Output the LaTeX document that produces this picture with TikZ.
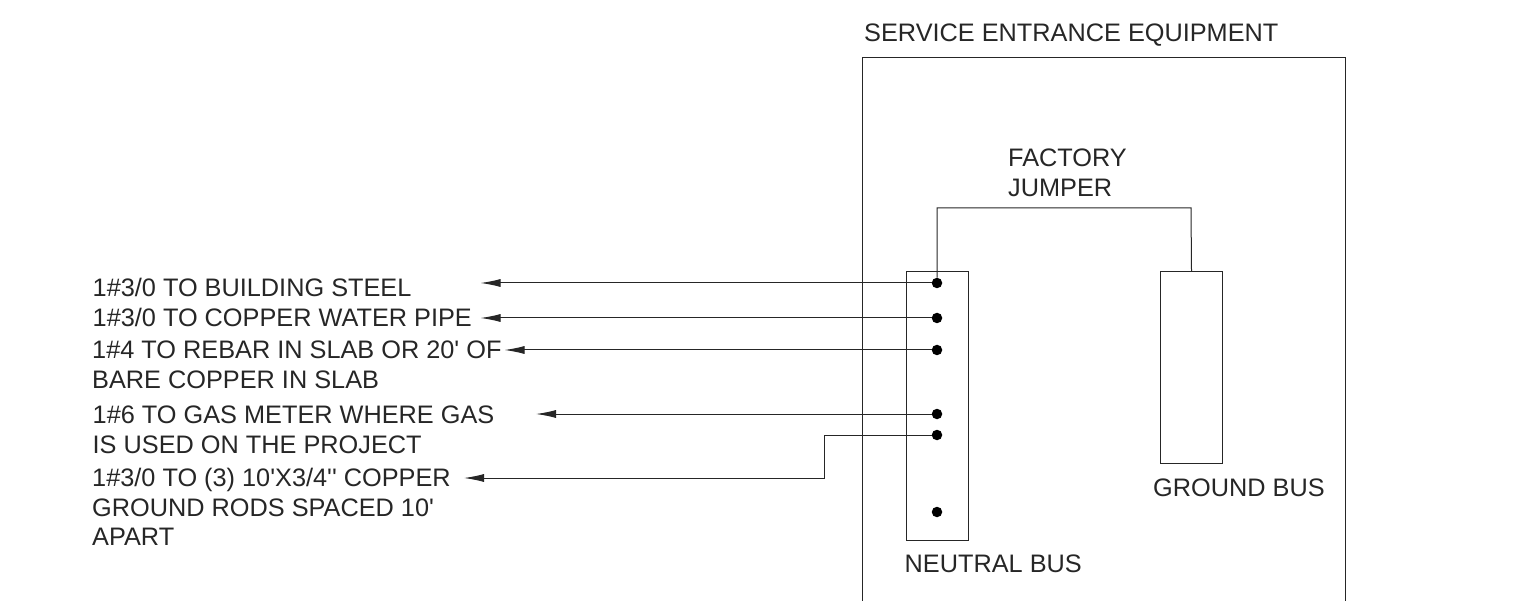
\documentclass[tikz,border=0pt]{standalone}
\usepackage{fontspec}
\setmainfont{Liberation Sans}
\usetikzlibrary{arrows.meta}
\begin{document}
\begin{tikzpicture}[x=1pt,y=-1pt,
            every node/.style = {align=left, anchor=west, inner sep=0pt,
              font=\fontsize{25.3}{29.5}\selectfont, text=black!85},
            wire/.style = {draw=black!85, line width=1pt},
            lead/.style = {wire, -{Latex[length=20pt,width=8pt]}},
            bus/.style = {draw=black!85, line width=1pt, shape=rectangle},
            lug/.style = {circle, fill=black, anchor=center, minimum size=10.5pt}]
  \useasboundingbox (0,0) rectangle (1520,601);
  \draw[wire] (862,601) -- (862,58) -- (1345,58) -- (1345,601);
  \node (title) at (864,35.5) {SERVICE ENTRANCE EQUIPMENT};
  \node (factory) at (1008,173) {FACTORY\\JUMPER};
  % buses
  \node[bus, anchor=north west, minimum width=62pt, minimum height=269pt] (neutral) at (905.5,271) {};
  \node[bus, anchor=north west, minimum width=62pt, minimum height=192pt] (ground) at (1160,271) {};
  \node (neutrallabel) at (904.5,564) {NEUTRAL BUS};
  \node (groundlabel) at (1153,488) {GROUND BUS};
  % lugs
  \node[lug] (a) at (937,283) {};
  \node[lug] (b) at (937,318) {};
  \node[lug] (c) at (937,350) {};
  \node[lug] (d) at (937,414) {};
  \node[lug] (e) at (937,435) {};
  \node[lug] (f) at (937,512) {};
  % labels
  \node (steel) at (92.5,287) {1\#3/0 TO BUILDING STEEL};
  \node (pipe) at (92.5,317.5) {1\#3/0 TO COPPER WATER PIPE};
  \node (rebar) at (92,365) {1\#4 TO REBAR IN SLAB OR 20\textquotesingle{} OF\\BARE COPPER IN SLAB};
  \node (gas) at (92.5,430) {1\#6 TO GAS METER WHERE GAS\\IS USED ON THE PROJECT};
  \node (rods) at (92,507) {1\#3/0 TO (3) 10\textquotesingle{}X3/4\textquotesingle\textquotesingle{} COPPER\\GROUND RODS SPACED 10\textquotesingle\\APART};
  % wires
  \coordinate (steelend) at (480.5,283);
  \coordinate (pipeend) at (480.5,318);
  \coordinate (rebarend) at (504.5,350);
  \coordinate (gasend) at (536,414);
  \coordinate (rodsend) at (464,478);
  \draw[wire] (a) |- (1191,208) -- (ground.north);
  \draw[lead] (a) -- (steelend);
  \draw[lead] (b) -- (pipeend);
  \draw[lead] (c) -- (rebarend);
  \draw[lead] (d) -- (gasend);
  \draw[lead] (e) -- (824,435) -- (824,478) -- (rodsend);
\end{tikzpicture}
\end{document}
